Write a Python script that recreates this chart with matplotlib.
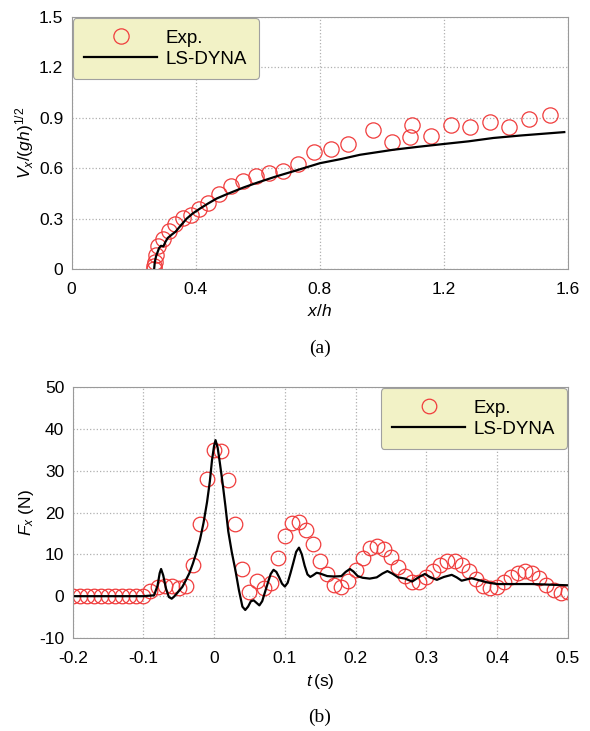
import numpy as np
import matplotlib.pyplot as plt

plt.rcParams['font.family'] = ['Liberation Sans', 'DejaVu Sans']
plt.rcParams['mathtext.fontset'] = 'custom'
plt.rcParams['mathtext.rm'] = 'Liberation Sans'
plt.rcParams['mathtext.it'] = 'Liberation Sans:italic'

# --- (a) velocity vs position ---
exp_xh = [0.266, 0.267, 0.268, 0.271, 0.280, 0.295, 0.314, 0.333, 0.358, 0.384,
          0.412, 0.441, 0.475, 0.513, 0.553, 0.596, 0.637, 0.681, 0.729, 0.782,
          0.837, 0.892, 0.973, 1.032, 1.091, 1.099, 1.158, 1.222, 1.284, 1.349,
          1.412, 1.476, 1.543]
exp_vx = [0.0, 0.02, 0.04, 0.085, 0.135, 0.18, 0.225, 0.268, 0.304, 0.323,
          0.355, 0.393, 0.446, 0.496, 0.526, 0.556, 0.569, 0.581, 0.627, 0.696,
          0.716, 0.742, 0.827, 0.756, 0.786, 0.855, 0.794, 0.857, 0.843, 0.875,
          0.847, 0.893, 0.917]

dyna_xh = [0.266, 0.268, 0.272, 0.277, 0.282, 0.288, 0.296, 0.302, 0.310, 0.323,
           0.335, 0.350, 0.371, 0.390, 0.414, 0.440, 0.468, 0.500, 0.554, 0.600,
           0.661, 0.730, 0.801, 0.870, 0.930, 1.038, 1.120, 1.199, 1.280, 1.360,
           1.450, 1.589]
dyna_vx = [0.0, 0.04, 0.075, 0.10, 0.125, 0.138, 0.135, 0.16, 0.185, 0.205,
           0.222, 0.255, 0.30, 0.33, 0.36, 0.39, 0.42, 0.445, 0.485, 0.515,
           0.552, 0.59, 0.63, 0.655, 0.68, 0.71, 0.728, 0.744, 0.76, 0.78,
           0.795, 0.815]

# --- (b) force history ---
exp_t = np.round(np.arange(-0.2, 0.5001, 0.01), 2)
exp_f = [0, 0, 0, 0, 0, 0, 0, 0, 0, 0, 0,
         1.3, 2.3, 2.5, 2.5, 1.9, 2.5, 7.5, 17.2, 28.0, 34.9,
         34.6, 27.7, 17.2, 6.5, 1.0, 3.6, 1.9, 3.1, 9.2, 14.5,
         17.4, 17.8, 15.8, 12.4, 8.3, 5.3, 2.7, 2.3, 3.7, 6.3,
         9.2, 11.4, 12.0, 11.2, 9.3, 6.9, 4.9, 3.5, 3.5, 4.5,
         6.0, 7.5, 8.4, 8.3, 7.5, 5.9, 4.1, 2.5, 1.9, 2.3,
         3.4, 4.7, 5.6, 6.0, 5.6, 4.3, 2.7, 1.4, 0.7, 1.0]

dyna_t = [-0.2, -0.1, -0.085, -0.08, -0.077, -0.075, -0.072, -0.068, -0.064, -0.06,
          -0.056, -0.05, -0.045, -0.04, -0.035, -0.03, -0.025, -0.02, -0.015, -0.01,
          -0.006, -0.003, 0.0, 0.002, 0.005, 0.008, 0.012, 0.016, 0.02, 0.025,
          0.03, 0.035, 0.04, 0.044, 0.048, 0.052, 0.056, 0.06, 0.064, 0.068,
          0.072, 0.076, 0.08, 0.084, 0.088, 0.092, 0.096, 0.1, 0.104, 0.108,
          0.112, 0.116, 0.12, 0.124, 0.128, 0.132, 0.136, 0.14, 0.145, 0.15,
          0.16, 0.17, 0.18, 0.186, 0.192, 0.197, 0.203, 0.21, 0.22, 0.23,
          0.238, 0.245, 0.252, 0.26, 0.27, 0.28, 0.29, 0.298, 0.305, 0.315,
          0.325, 0.336, 0.343, 0.35, 0.357, 0.364, 0.375, 0.386, 0.4, 0.45, 0.5]
dyna_f = [0, 0, 0.2, 2.5, 5.5, 6.5, 5.0, 1.8, -0.2, -0.6,
          0.0, 1.2, 2.2, 3.8, 5.5, 7.8, 10.5, 13.5, 17.5, 22.5,
          27.5, 32.5, 36.0, 37.3, 35.5, 32.0, 27.0, 21.5, 15.5, 10.5,
          6.3, 1.5, -2.5, -3.3, -2.5, -1.2, -1.0, -1.6, -2.2, -1.2,
          1.0, 3.2, 5.3, 6.3, 5.8, 4.5, 3.0, 2.3, 3.2, 5.5,
          8.0, 10.6, 11.6, 10.0, 7.3, 5.2, 4.6, 5.0, 5.6, 5.4,
          4.8, 4.7, 4.8, 5.8, 6.5, 5.9, 4.8, 4.4, 4.2, 4.5,
          5.4, 6.0, 5.4, 4.5, 4.2, 3.5, 4.6, 5.3, 4.6, 3.9,
          4.6, 5.1, 4.5, 3.7, 4.0, 4.3, 3.8, 3.3, 2.9, 2.9, 2.6]

red = '#f03c3c'
grid_col = '#b0b0b0'
spine_col = '#9a9a9a'
leg_face = '#f2f2c6'

fig = plt.figure(figsize=(5.9, 7.31), dpi=100)
ax1 = fig.add_axes([0.1215, 0.632, 0.8407, 0.3447])
ax2 = fig.add_axes([0.1232, 0.1272, 0.839, 0.3434])


def style(ax):
    for s in ax.spines.values():
        s.set_color(spine_col)
        s.set_linewidth(0.8)
    ax.grid(True, linestyle=':', color=grid_col, linewidth=0.9)
    ax.set_axisbelow(True)
    ax.tick_params(length=0, labelsize=12.5)
    ax.tick_params(axis='x', pad=9.5)
    ax.tick_params(axis='y', pad=6)


def add_legend(ax, loc):
    leg = ax.legend(loc=loc, fontsize=13.5, handlelength=3.9, borderaxespad=0.05,
                    fancybox=True, facecolor=leg_face, edgecolor='#a0a0a0', framealpha=1,
                    borderpad=0.62, labelspacing=0.2, handletextpad=0.45)
    leg.get_frame().set_linewidth(0.8)
    return leg


ax1.plot(exp_xh, exp_vx, 'o', mfc='none', mec=red, ms=11, mew=0.9, label='Exp.')
ax1.plot(dyna_xh, dyna_vx, '-', color='black', lw=1.6, label='LS-DYNA')
ax1.set_xlim(0, 1.6)
ax1.set_ylim(0, 1.5)
ax1.set_xticks([0, 0.4, 0.8, 1.2, 1.6])
ax1.set_xticklabels(['0', '0.4', '0.8', '1.2', '1.6'])
ax1.set_yticks([0, 0.3, 0.6, 0.9, 1.2, 1.5])
ax1.set_yticklabels(['0', '0.3', '0.6', '0.9', '1.2', '1.5'])
style(ax1)
ax1.set_xlabel(r'$x/h$', fontsize=12.5, labelpad=4)
ax1.set_ylabel(r'$V_x/(g\mathit{h})^{1/2}$', fontsize=12.5, labelpad=2)
add_legend(ax1, 'upper left')

ax2.plot(exp_t, exp_f, 'o', mfc='none', mec=red, ms=10.5, mew=0.9, label='Exp.')
ax2.plot(dyna_t, dyna_f, '-', color='black', lw=1.6, label='LS-DYNA')
ax2.set_xlim(-0.2, 0.5)
ax2.set_ylim(-10, 50)
ax2.set_xticks([-0.2, -0.1, 0, 0.1, 0.2, 0.3, 0.4, 0.5])
ax2.set_xticklabels(['-0.2', '-0.1', '0', '0.1', '0.2', '0.3', '0.4', '0.5'])
ax2.set_yticks([-10, 0, 10, 20, 30, 40, 50])
ax2.set_yticklabels(['-10', '0', '10', '20', '30', '40', '50'])
style(ax2)
ax2.set_xlabel(r'$t\,$(s)', fontsize=12.5, labelpad=4)
ax2.set_ylabel(r'$F_x$ (N)', fontsize=12.5, labelpad=2)
add_legend(ax2, 'upper right')

fig.text(0.542, 1 - 348 / 731, '(a)', ha='center', va='center',
         fontsize=14, family='Liberation Serif')
fig.text(0.542, 1 - 717 / 731, '(b)', ha='center', va='center',
         fontsize=14, family='Liberation Serif')

fig.savefig('out.png', dpi=100)
